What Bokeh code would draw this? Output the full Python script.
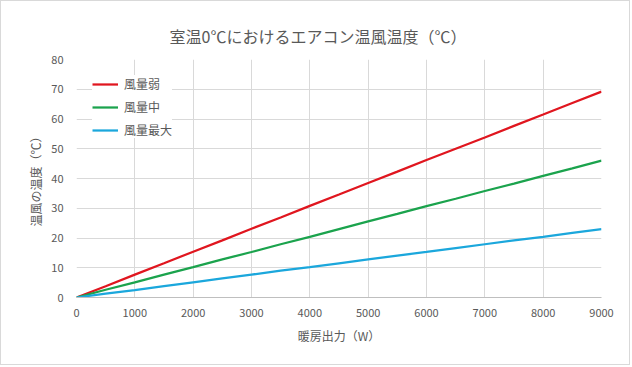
from bokeh.plotting import figure
from bokeh.models import Range1d, Legend, LegendItem, FixedTicker
from bokeh.embed import file_html
from bokeh.resources import INLINE

# Data
power_w = [0, 500, 1000, 1500, 2000, 2500, 3000, 3500, 4000, 4500,
           5000, 5500, 6000, 6500, 7000, 7500, 8000, 8500, 9000]
temp_low = [0, 3.8, 7.7, 11.5, 15.4, 19.2, 23.1, 26.9, 30.8, 34.6,
            38.5, 42.3, 46.2, 50.0, 53.8, 57.7, 61.5, 65.4, 69.2]
temp_mid = [0, 2.6, 5.1, 7.7, 10.2, 12.8, 15.3, 17.9, 20.4, 23.0,
            25.6, 28.1, 30.7, 33.2, 35.8, 38.3, 40.9, 43.4, 46.0]
temp_max = [0, 1.3, 2.5, 3.8, 5.1, 6.4, 7.7, 9.0, 10.2, 11.5,
            12.8, 14.1, 15.3, 16.6, 17.9, 19.2, 20.4, 21.7, 23.0]
series_names = ["風量弱", "風量中", "風量最大"]
x_ticks = [0, 1000, 2000, 3000, 4000, 5000, 6000, 7000, 8000, 9000]
y_ticks = [0, 10, 20, 30, 40, 50, 60, 70, 80]

title_text = "室温0℃におけるエアコン温風温度（℃）"
x_label = "暖房出力（W）"
y_label = "温風の温度（℃）"

FONT = "Noto Sans CJK JP"
GRAY = "#595959"

p = figure(width=630, height=365, output_backend="svg", toolbar_location=None,
           x_range=Range1d(0, 9000), y_range=Range1d(0, 80),
           min_border_left=75, min_border_right=30, min_border_top=58,
           min_border_bottom=69)
p.styles = {"border": "1px solid #d9d9d9"}

p.title.text = title_text
p.title.align = "left"
p.title.offset = 93
p.title.text_font = FONT
p.title.text_font_size = "16px"
p.title.text_font_style = "normal"
p.title.text_color = GRAY
p.title.standoff = 24

p.outline_line_color = None
p.background_fill_color = "white"
p.border_fill_color = "white"

for g in (p.xgrid[0], p.ygrid[0]):
    g.grid_line_color = "#d9d9d9"
    g.grid_line_width = 1
p.xgrid.ticker = FixedTicker(ticks=x_ticks)
p.ygrid.ticker = FixedTicker(ticks=y_ticks)

p.xaxis.ticker = FixedTicker(ticks=x_ticks)
p.yaxis.ticker = FixedTicker(ticks=y_ticks)
p.xaxis.axis_line_color = "#bfbfbf"
p.yaxis.axis_line_color = None
for ax in (p.xaxis[0], p.yaxis[0]):
    ax.major_tick_line_color = None
    ax.minor_tick_line_color = None
    ax.major_label_text_font = FONT
    ax.major_label_text_font_size = "11px"
    ax.major_label_text_color = GRAY
    ax.axis_label_text_font = FONT
    ax.axis_label_text_font_size = "12px"
    ax.axis_label_text_font_style = "normal"
    ax.axis_label_text_color = GRAY
p.xaxis.major_label_standoff = 5
p.yaxis.major_label_standoff = 7
p.xaxis.axis_label = x_label
p.yaxis.axis_label = y_label
p.xaxis.axis_label_standoff = 7
p.yaxis.axis_label_standoff = 4

colors = ["#e0161f", "#1ba34d", "#1ba7dc"]
renderers = []
for ys, c in zip([temp_low, temp_mid, temp_max], colors):
    r = p.line(power_w, ys, line_color=c, line_width=2.25)
    renderers.append(r)

legend = Legend(items=[LegendItem(label=n, renderers=[r]) for n, r in zip(series_names, renderers)],
                location="top_left")
legend.background_fill_color = "white"
legend.background_fill_alpha = 1
legend.border_line_color = None
legend.label_text_font = FONT
legend.label_text_font_size = "12px"
legend.label_text_color = GRAY
legend.glyph_width = 26
legend.glyph_height = 16
legend.label_height = 16
legend.spacing = 6
legend.padding = 6
legend.margin = 16
legend.label_standoff = 6
p.add_layout(legend)

html = file_html(p, INLINE)
html = html.replace("<head>", "<head><style>html,body{margin:0;padding:0;}</style>", 1)
open("out.html", "w").write(html)
